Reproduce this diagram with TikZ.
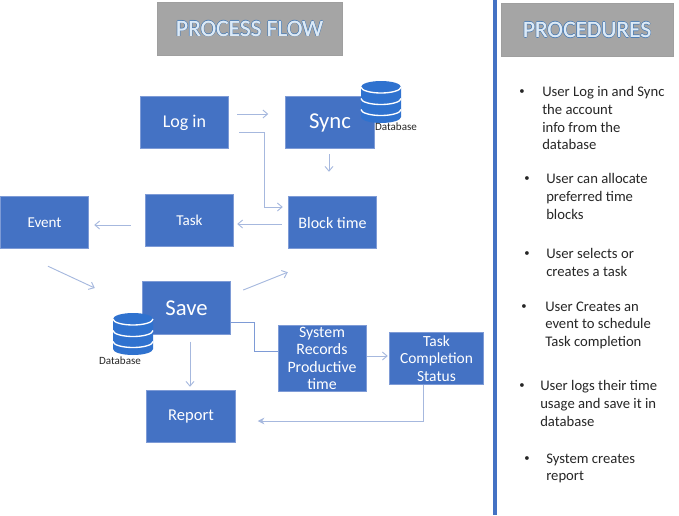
\documentclass[tikz,border=0pt]{standalone}
\usepackage{fontspec}
\setmainfont{Carlito}
\usetikzlibrary{arrows.meta,calc}
\definecolor{boxblue}{HTML}{4472C4}
\definecolor{boxedge}{HTML}{7E9BD6}
\definecolor{flowline}{HTML}{A6B8DE}
\definecolor{dbblue}{HTML}{2F72CF}
\definecolor{titlegray}{HTML}{A5A5A5}
\definecolor{titleglow}{HTML}{4F7FB5}
\definecolor{titletext}{HTML}{DCEAF7}
\newcommand{\glowtitle}[1]{%
    \rlap{\kern0.6pt\textcolor{titleglow}{#1}}%
    \rlap{\kern-0.6pt\textcolor{titleglow}{#1}}%
    \rlap{\raisebox{0.6pt}{\textcolor{titleglow}{#1}}}%
    \rlap{\raisebox{-0.6pt}{\textcolor{titleglow}{#1}}}%
    \rlap{\kern0.2pt\textcolor{titletext}{#1}}%
    \textcolor{titletext}{#1}}
\tikzset{
    flowbox/.style={draw=boxedge,line width=0.6pt,fill=boxblue,text=white,inner sep=0pt,
        minimum width=66.5pt,minimum height=39.5pt,align=center},
    titlebox/.style={draw=gray!75,line width=0.4pt,fill=titlegray,inner sep=0pt,
        font=\fontsize{17.6}{20}\selectfont},
    flow/.style={draw=flowline,line width=0.7pt,-{Straight Barb[length=3.5pt,width=6pt]}},
    procitem/.style={anchor=north west,inner sep=0pt,align=left,text=black!85,
        font=\fontsize{11}{13.2}\selectfont},
    procdot/.style={inner sep=0pt,text=black!85,font=\fontsize{8}{10}\selectfont},
    dblabel/.style={inner sep=0pt,text=black!85,font=\fontsize{8.3}{10}\selectfont},
    dbicon/.pic={
        \fill[dbblue] (-20,-15) -- (-20,15) arc (180:0:20 and 6) -- (20,-15) arc (0:-180:20 and 6) -- cycle;
        \draw[white,line width=1pt] (-20,-15) arc (180:0:20 and 6);
        \draw[white,line width=1pt] (-20,-3.5) arc (180:0:20 and 6);
        \draw[white,line width=1pt] (-20,7.5) arc (180:0:20 and 6);
    }
}
\begin{document}
\begin{tikzpicture}[x=0.75pt,y=-0.75pt]
    \useasboundingbox (0,0) rectangle (679,515);

    % divider and headings
    \fill[boxblue] (493,0) rectangle (497,515);
    \node[titlebox,minimum width=138.5pt,minimum height=39.5pt] (flowtitle) at (249.5,28.5) {\glowtitle{PROCESS FLOW}};
    \node[titlebox,minimum width=129pt,minimum height=40pt] (proctitle) at (587,30) {\glowtitle{PROCEDURES}};

    % flow boxes
    \node[flowbox,font=\fontsize{13.5}{16}\selectfont] (login) at (184.5,122.5) {Log in};
    \node[flowbox,font=\fontsize{17}{20}\selectfont] (sync) at (330,122.5) {Sync};
    \node[flowbox,font=\fontsize{12}{15}\selectfont] (blocktime) at (332.5,222.5) {Block time};
    \node[flowbox,font=\fontsize{11.3}{14}\selectfont] (task) at (189.5,220.5) {Task};
    \node[flowbox,font=\fontsize{11.3}{14}\selectfont] (event) at (44.5,222.5) {Event};
    \node[flowbox,font=\fontsize{17}{20}\selectfont] (save) at (186.5,308) {Save};
    \node[flowbox,font=\fontsize{12.4}{15}\selectfont] (report) at (191,416.5) {Report};
    \node[flowbox,minimum width=66pt,minimum height=49pt,font=\fontsize{11.9}{13}\selectfont] (sysrecords) at (322,358.5) {System\\Records\\Productive\\time};
    \node[flowbox,minimum width=71pt,minimum height=39.5pt,font=\fontsize{11.6}{13}\selectfont] (taskstatus) at (436.5,358.5) {Task\\Completion\\Status};

    % database icons
    \pic at (381,102) {dbicon};
    \node[dblabel] (dbsync) at (396,127) {Database};
    \pic at (133,334) {dbicon};
    \node[dblabel] (dbsave) at (120,361) {Database};

    % connectors
    \draw[flow] ($(login.east)+(8,-8.5)$) -- ($(sync.west)+(-17,-8.5)$);
    \draw[flow] ($(login.east)+(10,9.5)$) -- ++(25,0) |- ($(blocktime.west)+(-5,-15.5)$);
    \draw[flow] ($(sync.south)+(-1,5)$) -- ($(blocktime.north)+(-3.5,-24)$);
    \draw[flow] ($(blocktime.west)+(-6,1.5)$) -- ($(task.east)+(3,3.5)$);
    \draw[flow] ($(task.west)+(-14,4.5)$) -- ($(event.east)+(5,2.5)$);
    \draw[flow] ($(event.south)+(3.5,17)$) -- ($(save.west)+(-47,-20)$);
    \draw[flow] ($(save.east)+(12,-18)$) -- ($(blocktime.south west)+(0,23)$);
    \draw[flow,draw=boxedge,-] ($(save.east)+(0,14)$) -- ++(23,0) |- (sysrecords.west |- 0,351);
    \draw[flow] ($(save.south)+(3.5,7)$) -- ($(report.north)+(-1,-3)$);
    \draw[flow] ($(sysrecords.east)+(1,-2.5)$) -- ($(taskstatus.west)+(-1,-2.5)$);
    \draw[flow,-{Stealth[length=5pt,width=5pt]}] ($(taskstatus.south)+(-13.5,0)$) |- ($(report.east)+(22,4.5)$);

    % procedure list
    \node[procdot] (dota) at (522,92) {•};
    \node[procitem] (itema) at (542,86.5) {User Log in and Sync\\the account\\info from the\\database};
    \node[procdot] (dotb) at (527,179) {•};
    \node[procitem] (itemb) at (546,173.5) {User can allocate\\preferred time\\blocks};
    \node[procdot] (dotc) at (527,254) {•};
    \node[procitem] (itemc) at (546,248.5) {User selects or\\creates a task};
    \node[procdot] (dotd) at (524,307) {•};
    \node[procitem] (itemd) at (545,301.5) {User Creates an\\event to schedule\\Task completion};
    \node[procdot] (dote) at (522,386) {•};
    \node[procitem] (iteme) at (540,380.5) {User logs their time\\usage and save it in\\database};
    \node[procdot] (dotf) at (527,459) {•};
    \node[procitem] (itemf) at (546,453.5) {System creates\\report};
\end{tikzpicture}
\end{document}
